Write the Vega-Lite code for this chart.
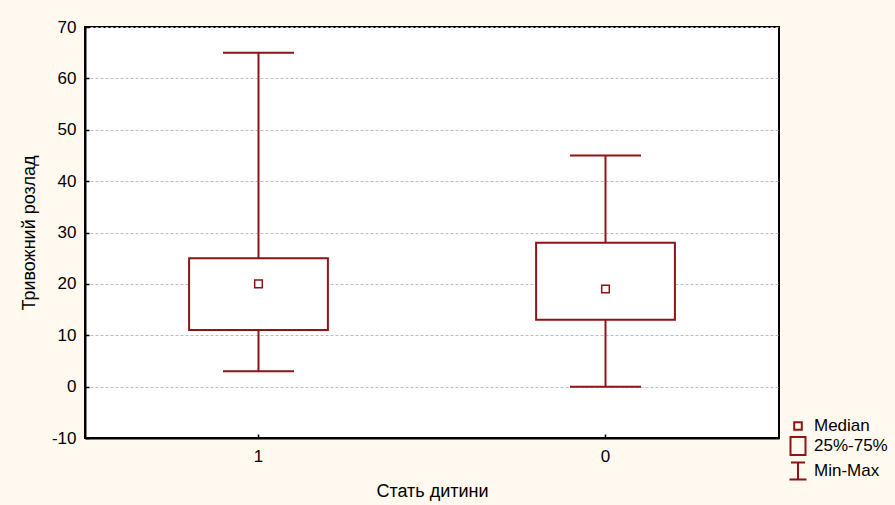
{
  "$schema": "https://vega.github.io/schema/vega-lite/v6.json",
  "width": 694,
  "height": 411,
  "autosize": {"type": "none"},
  "padding": {"left": 85, "top": 27, "right": 116, "bottom": 67},
  "background": "#FFF9EF",
  "config": {
    "view": {"fill": "white", "stroke": "#000000", "strokeWidth": 2},
    "font": "Liberation Sans",
    "axis": {
      "labelFont": "Liberation Sans",
      "titleFont": "Liberation Sans",
      "labelFontSize": 17,
      "titleFontSize": 18,
      "titleFontWeight": "normal",
      "labelColor": "#000000",
      "titleColor": "#000000",
      "domainColor": "#000000",
      "domainWidth": 2,
      "tickColor": "#000000",
      "tickSize": -4,
      "tickWidth": 1.5
    }
  },
  "data": {
    "values": [
      {"g": "1", "min": 3, "q1": 11, "med": 20, "q3": 25, "max": 65, "leg": "Median"},
      {"g": "0", "min": 0, "q1": 13, "med": 19, "q3": 28, "max": 45, "leg": "Median"}
    ]
  },
  "encoding": {
    "x": {
      "field": "g",
      "type": "nominal",
      "sort": ["1", "0"],
      "scale": {"paddingInner": 0, "paddingOuter": 0},
      "axis": {"title": "Стать дитини", "labelAngle": 0, "labelPadding": 14, "titlePadding": 18, "grid": false}
    }
  },
  "layer": [
    {
      "mark": {"type": "rule", "color": "#8C1515", "strokeWidth": 2, "opacity": 1},
      "encoding": {
        "y": {
          "field": "min",
          "type": "quantitative",
          "scale": {"domain": [-10, 70], "nice": false, "zero": false},
          "axis": {
            "title": "Тривожний розлад",
            "values": [-10, 0, 10, 20, 30, 40, 50, 60, 70],
            "labelExpr": "replace(datum.label, '−', '-')",
            "grid": true,
            "gridDash": [3, 2],
            "gridColor": "#BDBDBD",
            "gridWidth": 1,
            "labelPadding": 13,
            "titlePadding": 13
          }
        },
        "y2": {"field": "max"}
      }
    },
    {
      "mark": {"type": "bar", "fill": "white", "stroke": "#8C1515", "strokeWidth": 2, "opacity": 1, "width": {"band": 0.4}},
      "encoding": {
        "y": {"field": "q1", "type": "quantitative"},
        "y2": {"field": "q3"}
      }
    },
    {
      "mark": {"type": "tick", "color": "#8C1515", "thickness": 2, "size": 71, "opacity": 1},
      "encoding": {"y": {"field": "min", "type": "quantitative"}}
    },
    {
      "mark": {"type": "tick", "color": "#8C1515", "thickness": 2, "size": 71, "opacity": 1},
      "encoding": {"y": {"field": "max", "type": "quantitative"}}
    },
    {
      "mark": {"type": "point", "filled": false, "color": "#8C1515", "strokeWidth": 1.5, "size": 400, "opacity": 1},
      "encoding": {
        "y": {"field": "med", "type": "quantitative"},
        "shape": {
          "field": "leg",
          "type": "nominal",
          "scale": {
            "domain": ["Median", "25%-75%", "Min-Max"],
            "range": [
              "M-0.38,-0.38L0.38,-0.38L0.38,0.38L-0.38,0.38Z",
              "M-0.75,-0.9L0.75,-0.9L0.75,0.9L-0.75,0.9Z",
              "M-0.7,-0.85L0.7,-0.85L0,-0.85L0,0.85L-0.85,0.85L0.85,0.85L0,0.85L0,-0.85Z"
            ]
          },
          "legend": {
            "title": null,
            "orient": "none",
            "legendX": 702,
            "legendY": 388,
            "padding": 0,
            "symbolSize": 400,
            "symbolStrokeWidth": 2,
            "symbolStrokeColor": "#8C1515",
            "symbolFillColor": "transparent",
            "rowPadding": -1,
            "labelFont": "Liberation Sans",
            "labelFontSize": 17,
            "labelColor": "#000000",
            "labelOffset": 5
          }
        }
      }
    }
  ]
}
